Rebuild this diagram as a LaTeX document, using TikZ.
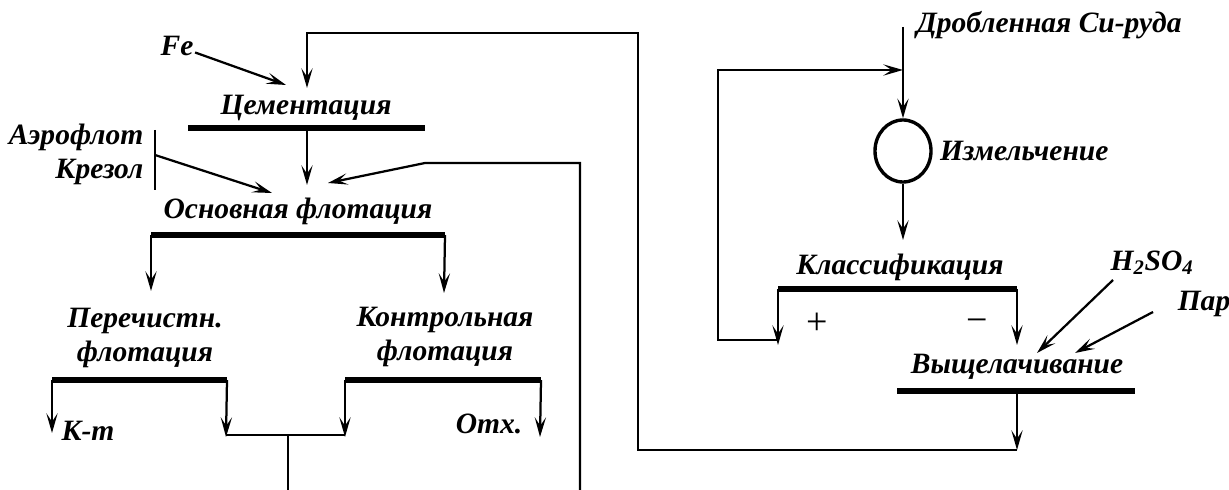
\documentclass[tikz,border=0pt]{standalone}
\usepackage{fontspec}
\setmainfont{Liberation Serif}
\usepackage{tikz}
\usetikzlibrary{positioning}
\usetikzlibrary{arrows.meta}
\usetikzlibrary{shapes.geometric}
\tikzset {
  % stage names
  lbl/.style = {font=\fontsize{21}{24}\selectfont\bfseries\itshape, inner sep=1pt},
  % signs of the classifier
  sign/.style = {font=\fontsize{27}{30}\selectfont, inner sep=1pt},
  % thick bar under a stage
  bar/.style = {line width=4.2pt},
  % streams
  pipe/.style = {line width=1.6pt},
  flow/.style = {pipe, -{Stealth[length=14pt,width=8pt,inset=6pt]}},
  % grinding mill
  mill/.style = {draw, ellipse, line width=2.4pt, minimum width=1.4cm, minimum height=1.55cm, inner sep=0pt},
}

\begin{document}
\begin{tikzpicture}[x=0.025cm, y=-0.025cm]
  \useasboundingbox (0,0) rectangle (1229,490);

  % cementation
  \node[lbl] (fe) at (177,46) {Fe};
  \coordinate (feTip) at (286,85);
  \node[lbl] (cem) at (306,108) {Цементация};
  \coordinate (cemIn) at (307,88);
  \coordinate (cemL) at (188,128);
  \coordinate (cemR) at (425,128);
  \coordinate (cemOut) at (307,128);
  \draw[bar] (cemL) -- (cemR);
  \draw[flow] (fe) -- (feTip);

  % rougher flotation
  \node[lbl, anchor=east] (aero) at (145,137) {Аэрофлот};
  \node[lbl, anchor=east] (krez) at (145,172) {Крезол};
  \coordinate (brT) at (155,130);
  \coordinate (brB) at (155,190);
  \coordinate (brM) at (155,155);
  \coordinate (reagTip) at (272,193);
  \coordinate (osnIn) at (307,185);
  \coordinate (retTip) at (328,183);
  \node[lbl] (osn) at (298,211) {Основная флотация};
  \coordinate (osnL) at (151,235);
  \coordinate (osnR) at (445,235);
  \draw[bar] (osnL) -- (osnR);
  \draw[pipe] (brT) -- (brB);
  \draw[flow] (brM) -- (reagTip);
  \draw[flow] (cemOut) -- (osnIn);

  % cleaner and scavenger
  \coordinate (perIn) at (151,291);
  \coordinate (konIn) at (444,293);
  \draw[flow] (osnL) -- (perIn);
  \draw[flow] (osnR) -- (konIn);
  \node[lbl, align=center] (per) at (145,338) {Перечистн.\\флотация};
  \node[lbl, align=center] (kon) at (445,337) {Контрольная\\флотация};
  \coordinate (perL) at (52,380);
  \coordinate (perR) at (227,380);
  \coordinate (konL) at (345,380);
  \coordinate (konR) at (541,380);
  \draw[bar] (perL) -- (perR);
  \draw[bar] (konL) -- (konR);
  \coordinate (ktTip) at (52,433);
  \coordinate (perTip) at (226,437);
  \coordinate (konTip) at (345,437);
  \coordinate (otxTip) at (540,437);
  \draw[flow] (perL) -- (ktTip);
  \draw[flow] (perR) -- (perTip);
  \draw[flow] (konL) -- (konTip);
  \draw[flow] (konR) -- (otxTip);
  \node[lbl] (kt) at (88,431) {К-т};
  \node[lbl] (otx) at (489,424) {Отх.};
  \coordinate (mgL) at (226,435);
  \coordinate (mgR) at (345,435);
  \coordinate (mgM) at (288,435);
  \coordinate (mgB) at (288,490);
  \draw[pipe] (mgL) -- (mgR);
  \draw[pipe] (mgM) -- (mgB);
  \coordinate (retB) at (580,490);
  \coordinate (retC) at (425,163);
  \draw[flow] (retB) |- (retC) -- (retTip);

  % grinding
  \node[lbl, anchor=west] (ore) at (915,25) {Дробленная Cu-руда};
  \coordinate (oreTop) at (903,27);
  \node[mill] (mill) at (903,151) {};
  \node[lbl, right=4pt of mill] (millLbl) {Измельчение};
  \coordinate (millTip) at (903,240);
  \draw[flow] (oreTop) -- (mill);
  \draw[flow] (mill) -- (millTip);

  % classification
  \node[lbl] (klass) at (900,267) {Классификация};
  \coordinate (klL) at (778,289);
  \coordinate (klR) at (1017,289);
  \draw[bar] (klL) -- (klR);
  \coordinate (plusTip) at (778,345);
  \coordinate (minusTip) at (1017,345);
  \draw[flow] (klL) -- (plusTip);
  \draw[flow] (klR) -- (minusTip);
  \node[sign] (plus) at (817,324) {+};
  \node[sign] (minus) at (977,326) {−};
  \coordinate (loopJ) at (778,340);
  \coordinate (loopC) at (718,340);
  \coordinate (loopTip) at (903,70);
  \draw[flow] (loopJ) -- (loopC) |- (loopTip);

  % leaching
  \node[lbl] (acid) at (1152,263) {H\textsubscript{2}SO\textsubscript{4}};
  \node[lbl] (par) at (1204,304) {Пар};
  \coordinate (acidFrom) at (1113,280);
  \coordinate (parFrom) at (1153,312);
  \coordinate (acidTip) at (1037,353);
  \coordinate (parTip) at (1075,353);
  \draw[flow] (acidFrom) -- (acidTip);
  \draw[flow] (parFrom) -- (parTip);
  \node[lbl] (vysh) at (1017,367) {Выщелачивание};
  \coordinate (vyL) at (897,391);
  \coordinate (vyR) at (1135,391);
  \coordinate (vyOut) at (1017,391);
  \coordinate (vyTip) at (1017,450);
  \draw[bar] (vyL) -- (vyR);
  \draw[flow] (vyOut) -- (vyTip);
  \coordinate (topR) at (638,33);
  \coordinate (topL) at (307,33);
  \draw[flow] (vyTip) -| (topR) -- (topL) -- (cemIn);
\end{tikzpicture}
\end{document}
